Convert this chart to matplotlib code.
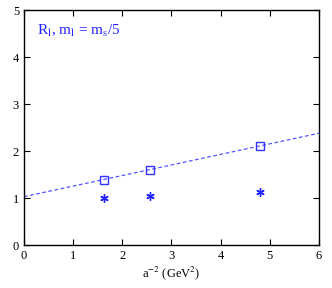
import matplotlib
matplotlib.use("Agg")
import matplotlib.pyplot as plt
import numpy as np

plt.rcParams['font.family'] = ['Liberation Serif', 'DejaVu Serif']
plt.rcParams['mathtext.fontset'] = 'stix'

# data
a2 = [1.62, 2.56, 4.80]
r_sq = [1.38, 1.60, 2.10]
r_star = [1.00, 1.04, 1.12]
fit_x = [0, 6]
fit_y = [1.03, 2.38]

fig = plt.figure(figsize=(3.32, 2.88), dpi=100)
ax = fig.add_axes([0.072, 0.149, 0.889, 0.816])

ax.plot(fit_x, fit_y, color='#5555ff', linestyle=(0, (3, 2)), lw=0.9)
ax.plot(a2, r_sq, linestyle='none', marker='s', ms=6, mfc='none', mec='#3333ff', mew=1.0)
ax.plot(a2, r_star, linestyle='none', marker=(6, 2, 0), ms=6, color='#2222ff', mew=1.0)

ax.set_xlim(0, 6)
ax.set_ylim(0, 5)
ax.set_xticks(range(0, 7))
ax.set_yticks(range(0, 6))
ax.tick_params(direction='in', top=True, right=True, labelsize=9, length=4, width=0.8)
for s in ax.spines.values():
    s.set_linewidth(1.0)
ax.set_xlabel(r'a$^{-2}$ (GeV$^2$)', fontsize=9, labelpad=2)
ax.text(0.27, 4.55, r'R$_\mathrm{l}$, m$_\mathrm{l}$ = m$_\mathrm{s}$/5', color='#2222ff',
        fontsize=11, va='center', ha='left')

fig.savefig('out.png', dpi=100)
